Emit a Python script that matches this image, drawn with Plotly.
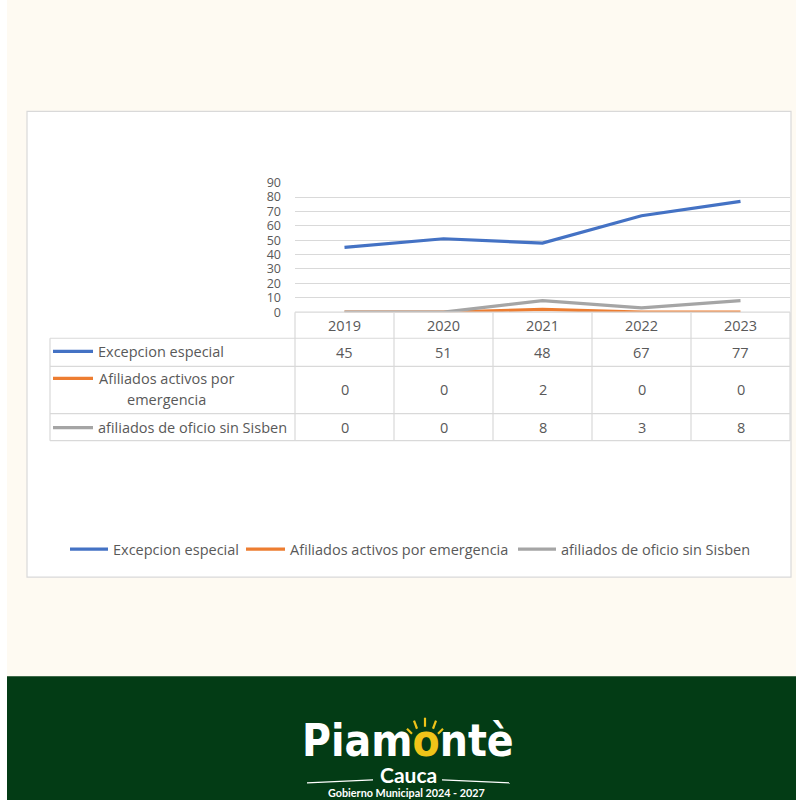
import plotly.graph_objects as go

# ---------------- data ----------------
years = ["2019", "2020", "2021", "2022", "2023"]
series_names = ["Excepcion especial", "Afiliados activos por emergencia", "afiliados de oficio sin Sisben"]
table_labels = [["Excepcion especial"], ["Afiliados activos por", "emergencia"], ["afiliados de oficio sin Sisben"]]
excepcion = [45, 51, 48, 67, 77]
emergencia = [0, 0, 2, 0, 0]
oficio = [0, 0, 8, 3, 8]
series_values = [excepcion, emergencia, oficio]
y_ticks = [0, 10, 20, 30, 40, 50, 60, 70, 80, 90]

# ---------------- style ----------------
W, H = 796, 800
colors = ["#4472c4", "#ed7d31", "#a5a5a5"]
txt = "#595959"
grid = "#d9d9d9"
cream = "#fefaf2"
green = "#033c15"
FONT = "Open Sans"
FS = 14.5

# the rendered figure sits at a small vertical offset/scale in the page; compensate
Y0, S = 10.0, 0.975

def px(x):
    return x / W

def py(y):
    return 1 - ((y - Y0) / S) / H

# plot area in pixels (target picture coordinates)
PL, PR, PT, PB = 295, 790, 183, 312
col_w = (PR - PL) / len(years)

fig = go.Figure()
for name, vals, c in zip(series_names, series_values, colors):
    fig.add_trace(go.Scatter(
        x=list(range(len(years))), y=vals, mode="lines", name=name,
        line=dict(color=c, width=3.2), cliponaxis=False, hoverinfo="skip", showlegend=False))

shapes = []
# page background
shapes.append(dict(type="rect", xref="paper", yref="paper", x0=px(7), x1=1, y0=py(675), y1=py(1),
                   fillcolor=cream, line=dict(width=0), layer="below"))
# white chart panel
shapes.append(dict(type="rect", xref="paper", yref="paper", x0=px(27), x1=px(791), y0=py(576), y1=py(112),
                   fillcolor="white", line=dict(color="#d9d9d9", width=1.2), layer="below"))
# green band
shapes.append(dict(type="rect", xref="paper", yref="paper", x0=px(7), x1=1, y0=py(805), y1=py(675),
                   fillcolor=green, line=dict(width=0), layer="below"))

# data table grid
row_bounds = [312, 338, 366, 413, 440]
TL = 50
for i, yb in enumerate(row_bounds):
    x0 = PL if i == 0 else TL
    shapes.append(dict(type="line", xref="paper", yref="paper", x0=px(x0), x1=px(PR), y0=py(yb), y1=py(yb),
                       line=dict(color=grid, width=1.2)))
for k in range(len(years) + 1):
    xv = PL + k * col_w
    shapes.append(dict(type="line", xref="paper", yref="paper", x0=px(xv), x1=px(xv), y0=py(312), y1=py(440),
                       line=dict(color=grid, width=1.2)))
shapes.append(dict(type="line", xref="paper", yref="paper", x0=px(TL), x1=px(TL), y0=py(338), y1=py(440),
                   line=dict(color=grid, width=1.2)))

annotations = []
# year header
for i, yr in enumerate(years):
    annotations.append(dict(x=i, xref="x", y=py(325), yref="paper", text=yr, showarrow=False,
                            font=dict(family=FONT, size=FS, color=txt), xanchor="center", yanchor="middle"))
# table rows
row_text_y = [352, 389, 427]
label_y = [[351], [378, 399], [427]]
for r, (labels, vals, c) in enumerate(zip(table_labels, series_values, colors)):
    key_y = label_y[r][0]
    shapes.append(dict(type="line", xref="paper", yref="paper", x0=px(53), x1=px(93), y0=py(key_y), y1=py(key_y),
                       line=dict(color=c, width=3.2)))
    if len(labels) == 1:
        annotations.append(dict(x=px(96), xref="paper", y=py(key_y), yref="paper", text=labels[0], showarrow=False,
                                font=dict(family=FONT, size=FS, color=txt), xanchor="left", yanchor="middle"))
    else:
        for lab, ly in zip(labels, label_y[r]):
            annotations.append(dict(x=px(166), xref="paper", y=py(ly), yref="paper", text=lab, showarrow=False,
                                    font=dict(family=FONT, size=FS, color=txt), xanchor="center", yanchor="middle"))
    for i, v in enumerate(vals):
        annotations.append(dict(x=i, xref="x", y=py(row_text_y[r]), yref="paper", text=str(v), showarrow=False,
                                font=dict(family=FONT, size=FS, color=txt), xanchor="center", yanchor="middle"))

# bottom legend (key line + label per series)
leg_y = 548
leg_line_x = [(70, 108), (246, 285), (518, 556)]
for name, c, (xa, xb) in zip(series_names, colors, leg_line_x):
    shapes.append(dict(type="line", xref="paper", yref="paper", x0=px(xa), x1=px(xb), y0=py(leg_y), y1=py(leg_y),
                       line=dict(color=c, width=3.2)))
    annotations.append(dict(x=px(xb + 3), xref="paper", y=py(leg_y), yref="paper", text=name, showarrow=False,
                            font=dict(family=FONT, size=FS, color=txt), xanchor="left", yanchor="middle"))

# logo
LOGO_FONT = "DejaVu Sans Condensed, DejaVu Sans"
annotations.append(dict(x=px(408), xref="paper", y=py(739), yref="paper",
                        text="<b>Piam<span style='color:#f0c419'>o</span>ntè</b>", showarrow=False,
                        font=dict(family=LOGO_FONT, size=44, color="white"), xanchor="center", yanchor="middle"))
annotations.append(dict(x=px(408), xref="paper", y=py(773), yref="paper", text="<b>Cauca</b>", showarrow=False,
                        font=dict(family="Lato", size=21, color="white"), xanchor="center", yanchor="middle"))
annotations.append(dict(x=px(406), xref="paper", y=py(790), yref="paper", text="<b>Gobierno Municipal 2024 - 2027</b>",
                        showarrow=False, font=dict(family="Lato", size=10.8, color="white"),
                        xanchor="center", yanchor="middle"))
shapes.append(dict(type="line", xref="paper", yref="paper", x0=px(307), x1=px(373), y0=py(781), y1=py(778),
                   line=dict(color="white", width=1.2)))
shapes.append(dict(type="line", xref="paper", yref="paper", x0=px(442), x1=px(510), y0=py(778), y1=py(781),
                   line=dict(color="white", width=1.2)))
# sun rays
for (xa, ya, xb, yb) in [(407, 727, 412, 732), (414, 719, 417, 727), (425, 716, 425, 725),
                         (436, 719, 433, 727), (443, 727, 438, 732)]:
    shapes.append(dict(type="line", xref="paper", yref="paper", x0=px(xa), x1=px(xb), y0=py(ya), y1=py(yb),
                       line=dict(color="#f0c419", width=2.2)))

fig.update_layout(
    width=W, height=H, autosize=False,
    margin=dict(l=0, r=0, t=0, b=0),
    paper_bgcolor="rgba(0,0,0,0)", plot_bgcolor="rgba(0,0,0,0)",
    xaxis=dict(domain=[px(PL), px(PR)], range=[-0.5, len(years) - 0.5], showgrid=False, zeroline=False,
               showticklabels=False, showline=False, fixedrange=True),
    yaxis=dict(domain=[py(PB), py(PT)], range=[0, 90], tickvals=y_ticks, showgrid=True, gridcolor=grid,
               gridwidth=1.2, zeroline=False, showline=False, ticks="", ticklabelstandoff=13,
               tickfont=dict(family=FONT, size=12.5, color=txt), fixedrange=True),
    showlegend=False,
    shapes=shapes, annotations=annotations,
)
post = (
    "document.body.style.margin='0';"
    "document.body.style.overflow='hidden';"
    "document.body.style.background='linear-gradient(to right, #ffffff 7px, rgba(0,0,0,0) 7px), "
    "linear-gradient(to bottom, #ffffff 1px, " + cream + " 1px, " + cream + " 675px, " + green + " 675px)';"
    "document.body.style.minHeight='100vh';"
)
fig.write_html("out.html", config={"displayModeBar": False}, post_script=post)
